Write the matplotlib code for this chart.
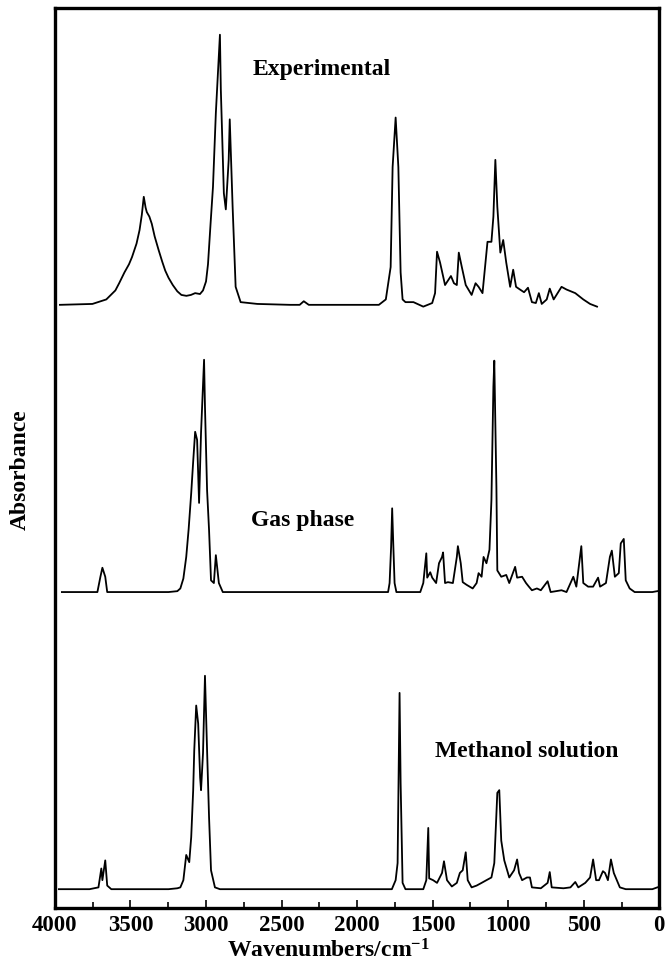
import matplotlib.pyplot as plt
from matplotlib.ticker import MultipleLocator

plt.rcParams['font.family'] = ['Liberation Serif', 'DejaVu Serif']
plt.rcParams['font.weight'] = 'bold'
plt.rcParams['mathtext.fontset'] = 'custom'
plt.rcParams['mathtext.rm'] = 'Liberation Serif:bold'
plt.rcParams['mathtext.bf'] = 'Liberation Serif:bold'
plt.rcParams['mathtext.it'] = 'Liberation Serif:bold'

# experimental spectrum (wavenumber, absorbance above its baseline)
exp_wn = [3967, 3752, 3660, 3600, 3575, 3540, 3510, 3490, 3460, 3440, 3425, 3412,
          3400, 3392, 3375, 3359, 3340, 3314, 3290, 3270, 3248, 3220, 3190, 3163,
          3130, 3100, 3072, 3040, 3020, 3000, 2987, 2970, 2954, 2935, 2908, 2902,
          2882, 2869, 2850, 2843, 2824, 2804, 2771, 2660, 2444, 2380, 2353, 2320,
          2222, 1856, 1810, 1778, 1765, 1745, 1727, 1712, 1699, 1680, 1627, 1562,
          1503, 1484, 1471, 1451, 1418, 1379, 1359, 1340, 1327, 1307, 1281, 1242,
          1216, 1196, 1170, 1137, 1111, 1098, 1085, 1072, 1052, 1033, 1013, 987,
          967, 948, 922, 895, 869, 843, 817, 797, 778, 745, 725, 699, 647, 614,
          556, 503, 458, 412]
exp_ab = [0.000, 0.001, 0.006, 0.016, 0.024, 0.036, 0.045, 0.053, 0.068, 0.083, 0.100, 0.120,
          0.108, 0.103, 0.098, 0.090, 0.076, 0.061, 0.048, 0.038, 0.030, 0.022, 0.015, 0.011,
          0.010, 0.011, 0.013, 0.012, 0.016, 0.026, 0.045, 0.090, 0.131, 0.213, 0.300, 0.239,
          0.124, 0.106, 0.161, 0.206, 0.109, 0.020, 0.003, 0.001, 0.000, 0.000, 0.004, 0.000,
          0.000, 0.000, 0.006, 0.042, 0.153, 0.208, 0.153, 0.036, 0.006, 0.003, 0.003, -0.002,
          0.002, 0.013, 0.059, 0.047, 0.022, 0.032, 0.024, 0.022, 0.058, 0.042, 0.022, 0.011,
          0.024, 0.020, 0.013, 0.070, 0.070, 0.098, 0.161, 0.109, 0.058, 0.072, 0.047, 0.020,
          0.039, 0.020, 0.017, 0.014, 0.019, 0.003, 0.002, 0.013, 0.001, 0.006, 0.018, 0.006,
          0.020, 0.017, 0.013, 0.006, 0.001, -0.002]

# computed gas phase spectrum
gas_wn = [3954, 3719, 3699, 3686, 3667, 3654, 3248, 3190, 3170, 3150, 3131, 3115,
          3098, 3085, 3072, 3059, 3046, 3033, 3013, 3007, 2993, 2980, 2967, 2948,
          2935, 2915, 2889, 1795, 1785, 1775, 1768, 1760, 1752, 1740, 1582, 1562,
          1542, 1536, 1516, 1503, 1477, 1458, 1438, 1431, 1418, 1399, 1366, 1340,
          1333, 1314, 1301, 1275, 1255, 1235, 1209, 1196, 1176, 1163, 1144, 1124,
          1111, 1098, 1092, 1078, 1072, 1046, 1013, 993, 954, 941, 908, 882, 863,
          843, 810, 784, 739, 719, 647, 614, 569, 549, 516, 503, 471, 438, 405,
          392, 353, 327, 314, 294, 268, 255, 235, 222, 196, 163, 46, 13]
gas_ab = [0.000, 0.000, 0.017, 0.027, 0.017, 0.000, 0.000, 0.001, 0.004, 0.015, 0.039, 0.070,
          0.110, 0.145, 0.178, 0.169, 0.099, 0.177, 0.258, 0.206, 0.113, 0.069, 0.013, 0.010,
          0.041, 0.010, 0.000, 0.000, 0.010, 0.050, 0.093, 0.050, 0.010, 0.000, 0.000, 0.010,
          0.043, 0.016, 0.022, 0.016, 0.010, 0.032, 0.039, 0.044, 0.010, 0.011, 0.010, 0.039,
          0.051, 0.032, 0.011, 0.008, 0.006, 0.004, 0.010, 0.021, 0.017, 0.039, 0.032, 0.047,
          0.102, 0.228, 0.257, 0.117, 0.024, 0.017, 0.019, 0.010, 0.028, 0.016, 0.017, 0.010, 0.006,
          0.002, 0.004, 0.002, 0.012, 0.000, 0.002, 0.000, 0.017, 0.006, 0.051, 0.010, 0.006, 0.006, 0.016,
          0.006, 0.010, 0.039, 0.046, 0.017, 0.021, 0.054, 0.059, 0.013, 0.004, 0.000, 0.000, 0.001]

# computed methanol solution spectrum
meth_wn = [3974, 3771, 3712, 3693, 3686, 3667, 3654, 3627, 3248, 3190, 3170, 3150,
           3131, 3111, 3098, 3085, 3078, 3065, 3052, 3039, 3033, 3020, 3007, 2993,
           2980, 2967, 2941, 2908, 1770, 1745, 1732, 1719, 1712, 1699, 1680, 1562,
           1542, 1529, 1523, 1497, 1471, 1438, 1425, 1405, 1373, 1340, 1320, 1301,
           1281, 1268, 1242, 1209, 1176, 1144, 1111, 1092, 1072, 1059, 1046, 1026,
           993, 961, 941, 928, 908, 876, 856, 843, 784, 739, 725, 712, 634, 588,
           556, 536, 490, 458, 438, 418, 399, 373, 359, 340, 320, 301, 261, 222,
           46, 13]
meth_ab = [0.000, 0.000, 0.002, 0.023, 0.010, 0.032, 0.004, 0.000, 0.000, 0.001, 0.002, 0.010,
           0.038, 0.030, 0.058, 0.110, 0.154, 0.204, 0.184, 0.124, 0.110, 0.151, 0.237, 0.154,
           0.080, 0.021, 0.002, 0.000, 0.000, 0.010, 0.029, 0.218, 0.118, 0.007, 0.000, 0.000,
           0.010, 0.068, 0.012, 0.010, 0.007, 0.018, 0.031, 0.010, 0.003, 0.007, 0.018, 0.021,
           0.041, 0.010, 0.002, 0.004, 0.007, 0.010, 0.013, 0.029, 0.107, 0.110, 0.054, 0.032,
           0.013, 0.021, 0.033, 0.018, 0.010, 0.013, 0.013, 0.002, 0.001, 0.007, 0.019, 0.002, 0.001, 0.002,
           0.008, 0.002, 0.007, 0.013, 0.033, 0.010, 0.010, 0.020, 0.018, 0.010, 0.033, 0.018, 0.002, 0.000,
           0.000, 0.002]

labels = ['Experimental', 'Gas phase', 'Methanol solution']
offsets = [0.670, 0.351, 0.021]
label_pos = [(2235, 0.931), (2360, 0.430), (876, 0.174)]

fig = plt.figure(figsize=(6.7, 9.64), dpi=100)
ax = fig.add_axes([0.082, 0.058, 0.902, 0.934])

for wn, ab, off in zip([exp_wn, gas_wn, meth_wn], [exp_ab, gas_ab, meth_ab], offsets):
    ax.plot(wn, [a + off for a in ab], color='black', lw=1.3)

for lab, (lx, ly) in zip(labels, label_pos):
    ax.text(lx, ly, lab, fontsize=17, fontweight='bold', ha='center', va='center')

ax.set_xlim(4000, 0)
ax.set_ylim(0, 1)
ax.xaxis.set_major_locator(MultipleLocator(500))
ax.xaxis.set_minor_locator(MultipleLocator(250))
ax.tick_params(axis='x', which='both', direction='in', labelsize=16.5, pad=5)
ax.tick_params(axis='x', which='major', length=6, width=1.2)
ax.tick_params(axis='x', which='minor', length=4, width=1.2)
ax.set_yticks([])
for lbl in ax.get_xticklabels():
    lbl.set_fontweight('bold')
for sp in ax.spines.values():
    sp.set_linewidth(2.4)

ax.set_xlabel('Wavenumbers/cm$^{-1}$', fontsize=17, fontweight='bold', labelpad=0)
ax.xaxis.set_label_coords(0.453, -0.035)
ax.set_ylabel('Absorbance', fontsize=17, fontweight='bold', va='center')
ax.yaxis.set_label_coords(-0.057, 0.487)

plt.savefig('out.png', dpi=100)
